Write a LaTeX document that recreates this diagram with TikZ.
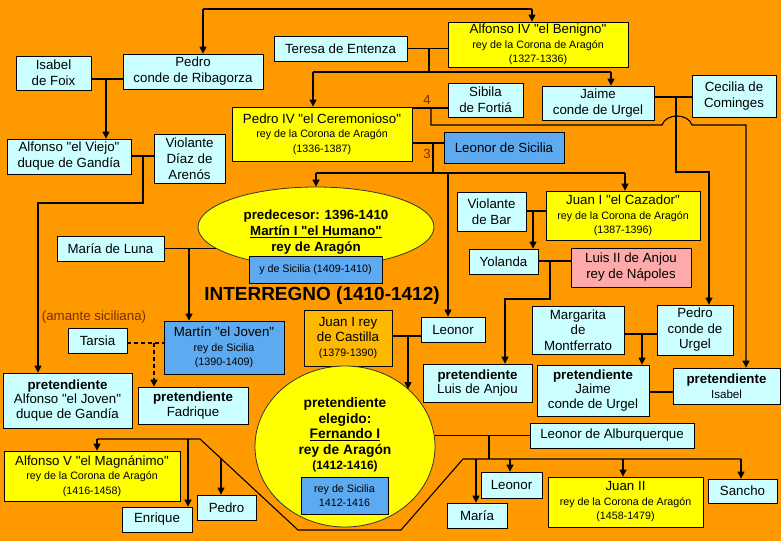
\documentclass[tikz,border=0pt]{standalone}
\usepackage{fontspec}
\setmainfont{Liberation Sans}
\usetikzlibrary{arrows.meta,shapes.geometric}
\definecolor{bg}{HTML}{FF9900}
\definecolor{lb}{HTML}{CCFFFF}
\definecolor{yl}{HTML}{FFFF00}
\definecolor{bl}{HTML}{5DAAF0}
\definecolor{pk}{HTML}{FFAAAA}
\definecolor{orl}{HTML}{FFB800}
\definecolor{brn}{HTML}{7A2E00}
\newcommand\sm{\fontsize{10.7}{13}\selectfont}
\newcommand\dq{\XeTeXglyph\XeTeXglyphindex "quotedbl"\relax}
\begin{document}
\begin{tikzpicture}[x=1pt,y=-1pt,
  font=\fontsize{13.3}{14.5}\selectfont,
  box/.style={draw=black, line width=0.8pt, inner sep=0pt, align=center},
  lbx/.style={box, fill=lb},
  ybx/.style={box, fill=yl},
  bbx/.style={box, fill=bl},
  ln/.style={line width=1.1pt, line join=miter},
  arr/.style={ln, -{Triangle[length=7pt,width=7pt]}},
  dsh/.style={dash pattern=on 4pt off 3pt},
  wh/.style={minimum width=#1},
  ht/.style={minimum height=#1}]
\useasboundingbox (0,0) rectangle (781,541);
\fill[bg] (0,0) rectangle (781,541);

% ---------- nodes ----------
\node[lbx, wh=140pt, ht=35pt] (ribagorza) at (193,71.5) {Pedro\\[1.5pt]conde de Ribagorza};
\node[lbx, wh=75pt, ht=34pt] (isabelfoix) at (53.5,73) {Isabel\\[1.5pt]de Foix};
\node[lbx, wh=133pt, ht=25pt] (teresa) at (340.5,48.5) {Teresa de Entenza};
\node[ybx, wh=180pt, ht=45pt] (alfonso4) at (538,44.5) {Alfonso IV \dq el Benigno\dq\\{\sm rey de la Corona de Aragón}\\{\sm (1327-1336)}};
\node[ybx, wh=180pt, ht=54pt] (pedro4) at (322,134) {Pedro IV \dq el Ceremonioso\dq\\{\sm rey de la Corona de Aragón}\\{\sm (1336-1387)}};
\node[lbx, wh=75pt, ht=34pt] (sibila) at (485.5,100) {Sibila\\[1.5pt]de Fortiá};
\node[lbx, wh=112pt, ht=34pt] (jaimeU) at (598,103) {Jaime\\[1.5pt]conde de Urgel};
\node[lbx, wh=84pt, ht=42pt] (cecilia) at (734,96) {Cecilia de\\[1.5pt]Cominges};
\node[bbx, wh=120pt, ht=31pt] (leonorS) at (504,147.5) {Leonor de Sicilia};
\node[lbx, wh=124pt, ht=35pt] (alfViejo) at (69,156.5) {Alfonso \dq el Viejo\dq\\[1.5pt]duque de Gandía};
\node[lbx, wh=71pt, ht=49pt] (violanteD) at (189.5,158.5) {Violante\\[1.5pt]Díaz de\\[1.5pt]Arenós};

\node[ellipse, draw=black!80, line width=0.8pt, fill=yl, minimum width=236pt, minimum height=80pt, inner sep=0pt] (martin1) at (316,227) {};
\node[align=center, inner sep=0pt] (martin1txt) at (316,232) {\bfseries predecesor: 1396-1410\\[1.5pt]\bfseries\underline{Martín I \dq el Humano\dq}\\[1.5pt]\bfseries rey de Aragón};
\node[bbx, wh=133pt, ht=27pt] (ysicilia) at (315.5,269.5) {\sm y de Sicilia (1409-1410)};
\node[lbx, wh=107pt, ht=25pt] (mariaLuna) at (110.5,248.5) {María de Luna};
\node[inner sep=0pt, font=\fontsize{19}{22}\selectfont\bfseries] (interregno) at (322,296) {INTERREGNO (1410-1412)};
\node[inner sep=0pt, text=brn] (amante) at (94,317) {(amante siciliana)};
\node[lbx, wh=59pt, ht=25pt] (tarsia) at (97.5,340.5) {Tarsia};
\node[bbx, wh=120pt, ht=53pt] (martinJ) at (224,347.5) {Martín \dq el Joven\dq\\{\sm rey de Sicilia}\\{\sm (1390-1409)}};
\node[box, fill=orl, wh=88pt, ht=56pt] (juanCast) at (348,338) {Juan I rey\\[1pt]de Castilla\\{\sm (1379-1390)}};
\node[lbx, wh=64pt, ht=25pt] (leonorC) at (453,329.5) {Leonor};
\node[lbx, wh=69pt, ht=39pt] (violanteB) at (491.5,211.5) {Violante\\[1.5pt]de Bar};
\node[ybx, wh=154pt, ht=49pt] (juan1) at (623,215.5) {Juan I \dq el Cazador\dq\\{\sm rey de la Corona de Aragón}\\{\sm (1387-1396)}};
\node[lbx, wh=69pt, ht=25pt] (yolanda) at (503.5,261.5) {Yolanda};
\node[box, fill=pk, wh=120pt, ht=39pt] (luis2) at (631,267.5) {Luis II de Anjou\\[1.5pt]rey de Nápoles};
\node[lbx, wh=92pt, ht=48pt] (margarita) at (578,330) {Margarita\\[1pt]de\\[1pt]Montferrato};
\node[lbx, wh=76pt, ht=50pt] (pedroU) at (695,330) {Pedro\\[1pt]conde de\\[1pt]Urgel};
\node[lbx, wh=129pt, ht=55pt] (pAlfonso) at (67.5,400.5) {\bfseries pretendiente\\Alfonso \dq el Joven\dq\\duque de Gandía};
\node[lbx, wh=110pt, ht=37pt] (pFadrique) at (193,405.5) {\bfseries pretendiente\\Fadrique};

\node[ellipse, draw=black!80, line width=0.8pt, fill=yl, minimum width=180pt, minimum height=161pt, inner sep=0pt] (fernando) at (345,446.5) {};
\node[align=center, inner sep=0pt, font=\fontsize{13.8}{15.5}\selectfont\bfseries] (fernandotxt) at (345,435) {pretendiente\\elegido:\\\underline{Fernando I}\\rey de Aragón\\{\fontsize{12}{14}\selectfont (1412-1416)}};
\node[bbx, wh=87pt, ht=37pt] (rSicilia) at (344.5,495.5) {\sm rey de Sicilia\\\sm 1412-1416};

\node[lbx, wh=109pt, ht=38pt] (pLuis) at (477.5,383) {\bfseries pretendiente\\Luis de Anjou};
\node[lbx, wh=112pt, ht=51pt] (pJaime) at (593,390.5) {\bfseries pretendiente\\Jaime\\conde de Urgel};
\node[lbx, wh=107pt, ht=36pt] (pIsabel) at (726.5,386) {\bfseries pretendiente\\{\fontsize{11.6}{13}\selectfont Isabel}};
\node[ybx, wh=176pt, ht=50pt] (alfonso5) at (92,476) {Alfonso V \dq el Magnánimo\dq\\{\sm rey de la Corona de Aragón}\\{\sm (1416-1458)}};
\node[lbx, wh=70pt, ht=25pt] (enrique) at (157,519.5) {Enrique};
\node[lbx, wh=59pt, ht=25pt] (pedroF) at (226.5,507.5) {Pedro};
\node[lbx, wh=164pt, ht=25pt] (leonorA) at (612,435.5) {Leonor de Alburquerque};
\node[lbx, wh=61pt, ht=26pt] (leonorF) at (511.5,485) {Leonor};
\node[lbx, wh=60pt, ht=25pt] (mariaF) at (477,515.5) {María};
\node[ybx, wh=155pt, ht=50pt] (juan2) at (625.5,502) {Juan II\\{\sm rey de la Corona de Aragón}\\{\sm (1458-1479)}};
\node[lbx, wh=69pt, ht=24pt] (sancho) at (742.5,491) {Sancho};

\node[inner sep=0pt, text=brn] (n4) at (427,100) {4};
\node[inner sep=0pt, text=brn] (n3) at (427,154) {3};

% ---------- connectors ----------
% Jaime II children
\coordinate (j1) at (203,9); \coordinate (j2) at (532,9);
\draw[ln] (j1) -- (j2);
\draw[arr] (j1) -- (j1 |- ribagorza.north);
\draw[arr] (j2) -- (j2 |- alfonso4.north);
% Isabel de Foix - Pedro Ribagorza
\coordinate (m1) at (106,79);
\draw[ln] (isabelfoix.east |- m1) -- (ribagorza.west |- m1);
\draw[arr] (m1) -- (m1 |- alfViejo.north);
% Teresa - Alfonso IV
\coordinate (m2) at (429,48.5); \coordinate (c2) at (429,72);
\draw[ln] (teresa.east) -- (alfonso4.west |- teresa.east);
\draw[ln] (m2) -- (c2);
\coordinate (c2a) at (313,72); \coordinate (c2b) at (611,72);
\draw[ln] (c2a) -- (c2b);
\draw[arr] (c2a) -- (c2a |- pedro4.north);
\draw[arr] (c2b) -- (c2b |- jaimeU.north);
% Pedro IV - Sibila
\coordinate (m3) at (431,108); \coordinate (c3) at (746,125);
\draw[ln] (pedro4.east |- m3) -- (sibila.west |- m3);
\draw[arr] (m3) -- (431,125) -- (662,125) .. controls (666,113) and (688,113) .. (692,125) -- (c3) -- (c3 |- pIsabel.north);
% Pedro IV - Leonor de Sicilia
\coordinate (m4) at (433,143);
\draw[ln] (pedro4.east |- m4) -- (leonorS.west |- m4);
\draw[ln] (m4) -- (433,173);
\coordinate (c4a) at (316,173); \coordinate (c4b) at (448,173); \coordinate (c4c) at (625,173);
\draw[ln] (c4a) -- (c4c);
\draw[arr] (c4a) -- (c4a |- martin1.north);
\draw[arr] (c4b) -- (c4b |- leonorC.north);
\draw[arr] (c4c) -- (c4c |- juan1.north);
% Jaime Urgel - Cecilia
\coordinate (m5) at (676,97); \coordinate (c5) at (709,172);
\draw[ln] (jaimeU.east |- m5) -- (cecilia.west |- m5);
\draw[arr] (m5) -- (676,172) -- (c5) -- (c5 |- pedroU.north);
% Alfonso el Viejo - Violante
\coordinate (m6) at (143,156); \coordinate (c6) at (38,203);
\draw[ln] (alfViejo.east |- m6) -- (violanteD.west |- m6);
\draw[arr] (m6) -- (143,203) -- (c6) -- (c6 |- pAlfonso.north);
% Maria de Luna - Martin I
\coordinate (m7) at (189,248.5);
\draw[ln] (mariaLuna.east) -- (mariaLuna.east -| martin1.192);
\draw[arr] (m7) -- (m7 |- martinJ.north);
% Tarsia - Martin el Joven
\coordinate (m8) at (154,343);
\draw[ln, dsh] (tarsia.east |- m8) -- (martinJ.west |- m8);
\draw[arr, dsh] (m8) -- (m8 |- pFadrique.north);
% Juan I Castilla - Leonor
\coordinate (m9) at (408,336);
\draw[ln] (juanCast.east |- m9) -- (leonorC.west |- m9);
\draw[arr] (m9) -- (m9 |- fernando.42);
% Violante de Bar - Juan I
\coordinate (m10) at (533,211);
\draw[ln] (violanteB.east |- m10) -- (juan1.west |- m10);
\draw[arr] (m10) -- (m10 |- yolanda.north);
% Yolanda - Luis II
\coordinate (m11) at (550,261); \coordinate (c11) at (505,299);
\draw[ln] (yolanda.east |- m11) -- (luis2.west |- m11);
\draw[arr] (m11) -- (550,299) -- (c11) -- (c11 |- pLuis.north);
% Margarita - Pedro Urgel
\coordinate (m12) at (642,334);
\draw[ln] (margarita.east |- m12) -- (pedroU.west |- m12);
\draw[arr] (m12) -- (m12 |- pJaime.north);
% pretendiente Jaime - Isabel
\coordinate (m13) at (660,392);
\draw[ln] (pJaime.east |- m13) -- (pIsabel.west |- m13);
% Fernando - Leonor de Alburquerque
\coordinate (m14) at (489,435.5);
\draw[ln] (leonorA.west) -- (leonorA.west -| fernando.east);
\draw[ln] (m14) -- (489,459);
\coordinate (k1) at (97,439); \coordinate (k2) at (188,439); \coordinate (k3) at (221,458.5);
\coordinate (k4) at (476,459); \coordinate (k5) at (510,459); \coordinate (k6) at (623,459); \coordinate (k7) at (741,459);
\draw[ln] (k7) -- (463,459) -- (401,530) -- (298,530) -- (200,439) -- (k1);
\draw[arr] (k1) -- (k1 |- alfonso5.north);
\draw[arr] (k2) -- (k2 |- enrique.north);
\draw[arr] (k3) -- (k3 |- pedroF.north);
\draw[arr] (k4) -- (k4 |- mariaF.north);
\draw[arr] (k5) -- (k5 |- leonorF.north);
\draw[arr] (k6) -- (k6 |- juan2.north);
\draw[arr] (k7) -- (k7 |- sancho.north);
\end{tikzpicture}
\end{document}
